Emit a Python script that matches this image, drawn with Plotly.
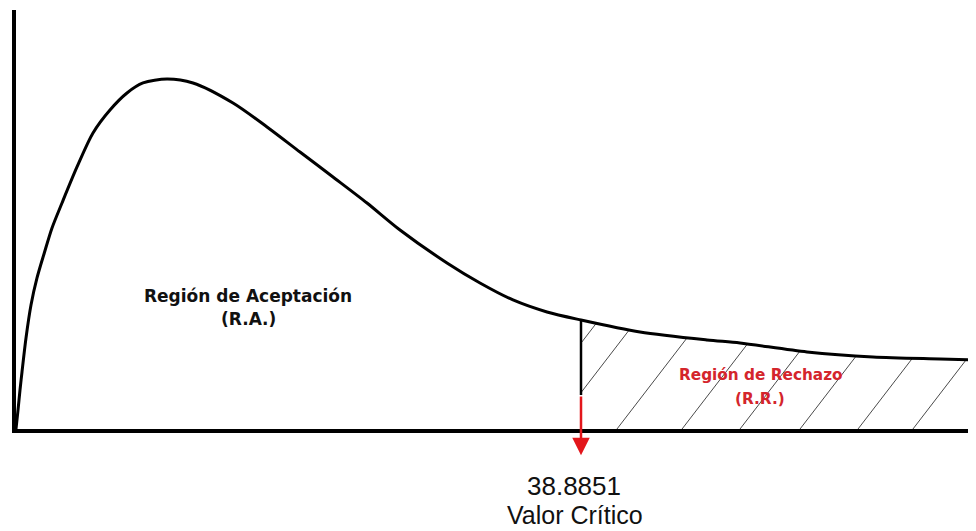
import numpy as np
import plotly.graph_objects as go

# Curve (x in statistic units, y = relative density, peak = 1)
curve_x = [0.0, 0.138, 0.275, 0.413, 0.688, 1.032, 1.445, 1.927, 2.478, 3.166, 4.198,
           5.299, 6.469, 7.639, 8.741, 10.392, 12.182, 14.935, 17.275, 19.546, 21.817,
           24.157, 26.428, 29.663, 31.934, 34.205, 36.545, 38.885, 42.946, 47.557,
           49.828, 54.439, 58.981, 63.593, 66.07]
curve_y = [0.0, 0.0543, 0.1114, 0.1629, 0.26, 0.3543, 0.4314, 0.5, 0.5743, 0.6457, 0.7486,
           0.8457, 0.9114, 0.96, 0.9886, 1.0, 0.9886, 0.9314, 0.8629, 0.7914, 0.72,
           0.6457, 0.5686, 0.4743, 0.4171, 0.3686, 0.3343, 0.3114, 0.2771, 0.2543,
           0.2457, 0.22, 0.2057, 0.2, 0.1971]

critical_value = 38.8851
critical_label = "38.8851"
critical_name = "Valor Crítico"

# hatch lines: points where each line meets the x axis, and their slope
hatch_starts = [34.34, 36.96, 41.36, 45.84, 49.83, 53.96, 57.95, 61.73]
hatch_slope = 0.05397

x_max = 66.07
y_max = 1.197

fig = go.Figure()

# hatch lines
xs = np.linspace(critical_value, x_max, 6000)
fs = np.interp(xs, curve_x, curve_y)
hx, hy = [], []
for b in hatch_starts:
    x0 = max(b, critical_value)
    y0 = hatch_slope * (x0 - b)
    g = hatch_slope * (xs - b) - fs
    idx = np.where((xs > x0) & (g >= 0))[0]
    if len(idx) == 0:
        continue
    x1 = xs[idx[0]]
    y1 = hatch_slope * (x1 - b)
    hx += [x0, x1, None]
    hy += [y0, y1, None]
fig.add_trace(go.Scatter(x=hx, y=hy, mode="lines",
                         line=dict(color="#4a4a4a", width=1), hoverinfo="skip"))

# curve
fig.add_trace(go.Scatter(x=curve_x, y=curve_y, mode="lines",
                         line=dict(color="black", width=3, shape="spline", smoothing=0.8),
                         hoverinfo="skip", cliponaxis=False))

# critical vertical line (black part)
fc = float(np.interp(critical_value, curve_x, curve_y))
fig.add_trace(go.Scatter(x=[critical_value, critical_value], y=[fc, 0.097], mode="lines",
                         line=dict(color="black", width=2.5), hoverinfo="skip"))

# red arrow
fig.add_annotation(x=critical_value, y=-0.075, ax=critical_value, ay=0.097,
                   xref="x", yref="y", axref="x", ayref="y",
                   showarrow=True, arrowhead=2, arrowsize=1.4, arrowwidth=2.5,
                   arrowcolor="#e3161b", text="")

bold_font = "DejaVu Sans"
fig.add_annotation(x=15.97, y=0.38, text="<b>Región de Aceptación</b>", showarrow=False,
                   font=dict(family=bold_font, size=17, color="#111111"))
fig.add_annotation(x=15.97, y=0.315, text="<b>(R.A.)</b>", showarrow=False,
                   font=dict(family=bold_font, size=17, color="#111111"))
fig.add_annotation(x=51.27, y=0.154, text="<b>Región de Rechazo</b>", showarrow=False,
                   font=dict(family=bold_font, size=15.3, color="#d4252c"))
fig.add_annotation(x=51.2, y=0.085, text="<b>(R.R.)</b>", showarrow=False,
                   font=dict(family=bold_font, size=15.3, color="#d4252c"))

fig.add_annotation(x=38.4, y=-0.1360, xref="x", yref="paper", yanchor="middle",
                   text=critical_label, showarrow=False, borderpad=0,
                   font=dict(family="Liberation Sans, Arial", size=26, color="#111111"))
fig.add_annotation(x=38.45, y=-0.2050, xref="x", yref="paper", yanchor="middle",
                   text=critical_name, showarrow=False, borderpad=0,
                   font=dict(family="Liberation Sans, Arial", size=25, color="#111111"))

fig.update_layout(
    width=968, height=523,
    margin=dict(l=8, r=0, t=2, b=102),
    paper_bgcolor="white", plot_bgcolor="white",
    showlegend=False,
    xaxis=dict(range=[0, x_max], showgrid=False, zeroline=False, showticklabels=False,
               ticks="", showline=True, linecolor="black", linewidth=4, fixedrange=True),
    yaxis=dict(range=[0, y_max], showgrid=False, zeroline=False, showticklabels=False,
               ticks="", showline=True, linecolor="black", linewidth=4, fixedrange=True),
)

fig.write_html("out.html", config={"displayModeBar": False})
